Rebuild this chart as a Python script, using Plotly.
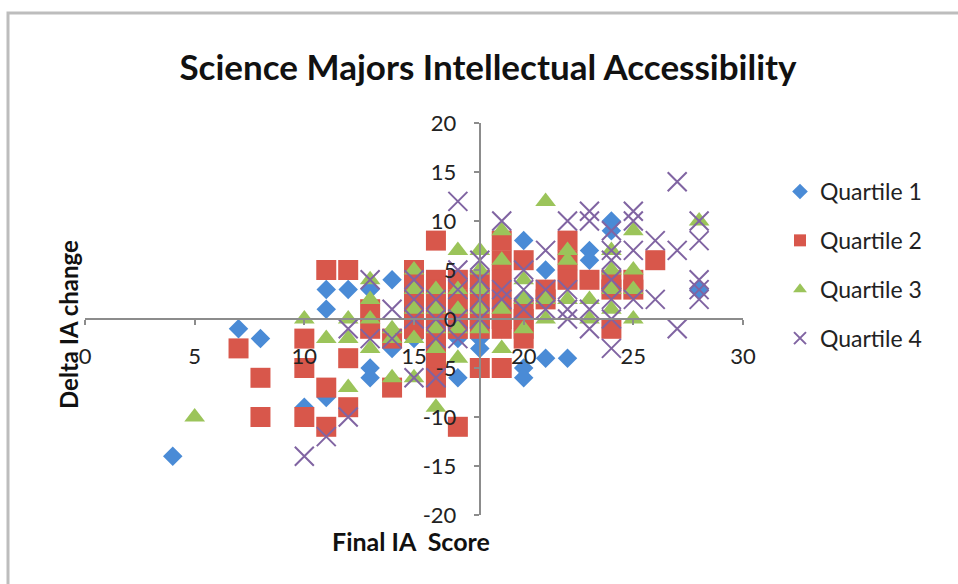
import plotly.graph_objects as go

# Final IA score (x) vs change in IA (y), one list pair per quartile
q1_x = [4, 7, 8, 10, 11, 11, 11, 12, 13, 13, 13, 14, 14, 15, 15, 16, 17, 17, 18, 18,
        19, 19, 20, 20, 20, 20, 21, 21, 22, 23, 23, 24, 24, 24, 28]
q1_y = [-14, -1, -2, -9, 3, 1, -8, 3, 3, -5, -6, 4, -3, -2, 2, -3, -2, -6, -3, -2,
        -1, 3, 8, 2, -5, -6, 5, -4, -4, 7, 6, 10, 9, 4, 3]

q2_x = [7, 8, 8, 10, 10, 10, 11, 11, 11, 12, 12, 12, 13, 13, 14, 14, 15, 15, 15, 15,
        15, 16, 16, 16, 16, 16, 16, 16, 16, 16, 16, 16, 16, 16, 17, 17, 17, 17, 17,
        18, 18, 18, 18, 18, 19, 19, 19, 19, 19, 19, 19, 20, 20, 20, 20, 20, 21, 21,
        22, 22, 22, 23, 24, 24, 24, 25, 25, 26]
q2_y = [-3, -6, -10, -2, -5, -10, 5, -7, -11, 5, -4, -9, 1, -1, -2, -7, 5, 4, 2, 0,
        -1, 8, 4, 3, 2, 1, 0, -1, -2, -3, -4, -5, -6, -7, 4, 2, 0, -1, -11,
        4, 2, 0, -1, -5, 8, 6, 4, 2, 0, -1, -5, 6, 1, 0, -1, -2, 3, 2,
        8, 6, 4, 4, 4, 3, -1, 4, 3, 6]

q3_x = [5, 10, 11, 12, 12, 12, 13, 13, 13, 13, 14, 14, 14, 15, 15, 15, 15, 15, 16, 16,
        16, 16, 16, 17, 17, 17, 17, 17, 18, 18, 18, 18, 18, 19, 19, 19, 19, 20, 20, 20,
        21, 21, 21, 22, 22, 22, 23, 23, 24, 24, 24, 24, 25, 25, 25, 25, 28]
q3_y = [-10, 0, -2, 0, -2, -7, 4, 2, 0, -3, -1, -2, -6, 5, 3, 1, -2, -6, 3, 1,
        -1, -3, -9, 7, 3, 1, -1, -4, 7, 5, 3, 1, -1, 9, 6, 1, -3, 4, 2, -1,
        12, 2, 0, 7, 6, 2, 2, 0, 7, 5, 3, 1, 9, 5, 3, 0, 10]

q4_x = [10, 11, 12, 12, 13, 13, 14, 14, 15, 15, 15, 15, 16, 16, 16, 16, 17, 17, 17, 17,
        17, 18, 18, 18, 18, 19, 19, 19, 20, 20, 20, 21, 21, 21, 22, 22, 22, 22, 23, 23,
        23, 23, 24, 24, 24, 24, 24, 24, 24, 25, 25, 25, 25, 26, 26, 27, 27, 27, 28, 28,
        28, 28, 28]
q4_y = [-14, -12, -10, -1, 4, -2, 1, -2, 4, 2, 0, -6, 2, 0, -2, -6, 12, 5, 3, 0,
        -2, 6, 4, 2, 0, 10, 3, 2, 5, 3, 1, 7, 3, 1, 10, 3, 1, 0, 11, 10,
        1, -1, 9, 7, 6, 4, 2, 0, -3, 11, 10, 7, 2, 8, 2, 14, 7, -1, 10, 8,
        4, 3, 2]

series_names = ["Quartile 1", "Quartile 2", "Quartile 3", "Quartile 4"]
x_ticks = [0, 5, 10, 15, 20, 25, 30]
y_ticks = [-20, -15, -10, -5, 0, 5, 10, 15, 20]

FONT = "Lato"
W, H = 958, 584
L, R, T, B = 85, 215, 123, 69
PW, PH = W - L - R, H - T - B


def px_to_paper_x(px):
    return (px - L) / PW


def px_to_paper_y(py):
    return (H - B - py) / PH


def tick_text(vals):
    # plain hyphen for negatives
    return [str(v) for v in vals]


fig = go.Figure()

styles = [
    dict(symbol="diamond", size=15, color="#4A8BD6", line=dict(width=0)),
    dict(symbol="square", size=20, color="#D8574B", line=dict(width=0)),
    dict(symbol="triangle-up", size=18, color="#9BC45A", line=dict(width=0)),
    dict(symbol="x-thin", size=19, color="#8064A2",
         line=dict(width=2, color="#8064A2")),
]

for i, (xs, ys) in enumerate([(q1_x, q1_y), (q2_x, q2_y), (q3_x, q3_y), (q4_x, q4_y)]):
    fig.add_trace(go.Scatter(
        x=xs, y=ys, mode="markers", name=series_names[i],
        legendgroup=f"g{i}", marker=styles[i], cliponaxis=False,
    ))

axis_common = dict(
    showgrid=False, zeroline=False, showline=True, linecolor="#8C8C8C",
    linewidth=2, ticks="outside", ticklen=5, tickwidth=2, tickcolor="#8C8C8C",
    tickfont=dict(family=FONT, size=22, color="#222222"),
    anchor="free",
)

fig.update_layout(
    width=W, height=H,
    margin=dict(l=L, r=R, t=T, b=B),
    paper_bgcolor="white", plot_bgcolor="white",
    font=dict(family=FONT, color="#222222"),
    title=dict(
        text="<b>Science Majors Intellectual Accessibility</b>",
        font=dict(family=FONT, size=35, color="#111111"),
        x=488 / W, xanchor="center", y=1 - 68 / H, yanchor="middle",
        xref="container", yref="container",
    ),
    xaxis=dict(axis_common, range=[0, 30], tickvals=x_ticks,
               ticktext=tick_text(x_ticks), position=0.5, ticklabelstandoff=13),
    yaxis=dict(axis_common, range=[-20, 20], tickvals=y_ticks,
               ticktext=tick_text(y_ticks), position=18 / 30, ticklabelstandoff=13),
    legend=dict(
        x=px_to_paper_x(780), y=px_to_paper_y(170), xanchor="left", yanchor="top",
        font=dict(family=FONT, size=23, color="#222222"),
        itemsizing="constant", tracegroupgap=16, bgcolor="rgba(0,0,0,0)",
    ),
    showlegend=True,
    annotations=[
        dict(text="<b>Delta IA change</b>", textangle=-90, showarrow=False,
             x=px_to_paper_x(68), y=px_to_paper_y(325), xref="paper", yref="paper",
             xanchor="center", yanchor="middle",
             font=dict(family=FONT, size=24, color="#111111")),
        dict(text="<b>Final IA\u00a0 Score</b>", showarrow=False,
             x=px_to_paper_x(411), y=px_to_paper_y(541), xref="paper", yref="paper",
             xanchor="center", yanchor="middle",
             font=dict(family=FONT, size=25, color="#111111")),
    ],
    shapes=[
        dict(type="rect", xref="paper", yref="paper",
             x0=px_to_paper_x(8), x1=px_to_paper_x(1000),
             y0=px_to_paper_y(650), y1=px_to_paper_y(13),
             line=dict(color="#BDBDBD", width=3), fillcolor="rgba(0,0,0,0)",
             layer="below"),
    ],
)

fig.write_html("out.html")
